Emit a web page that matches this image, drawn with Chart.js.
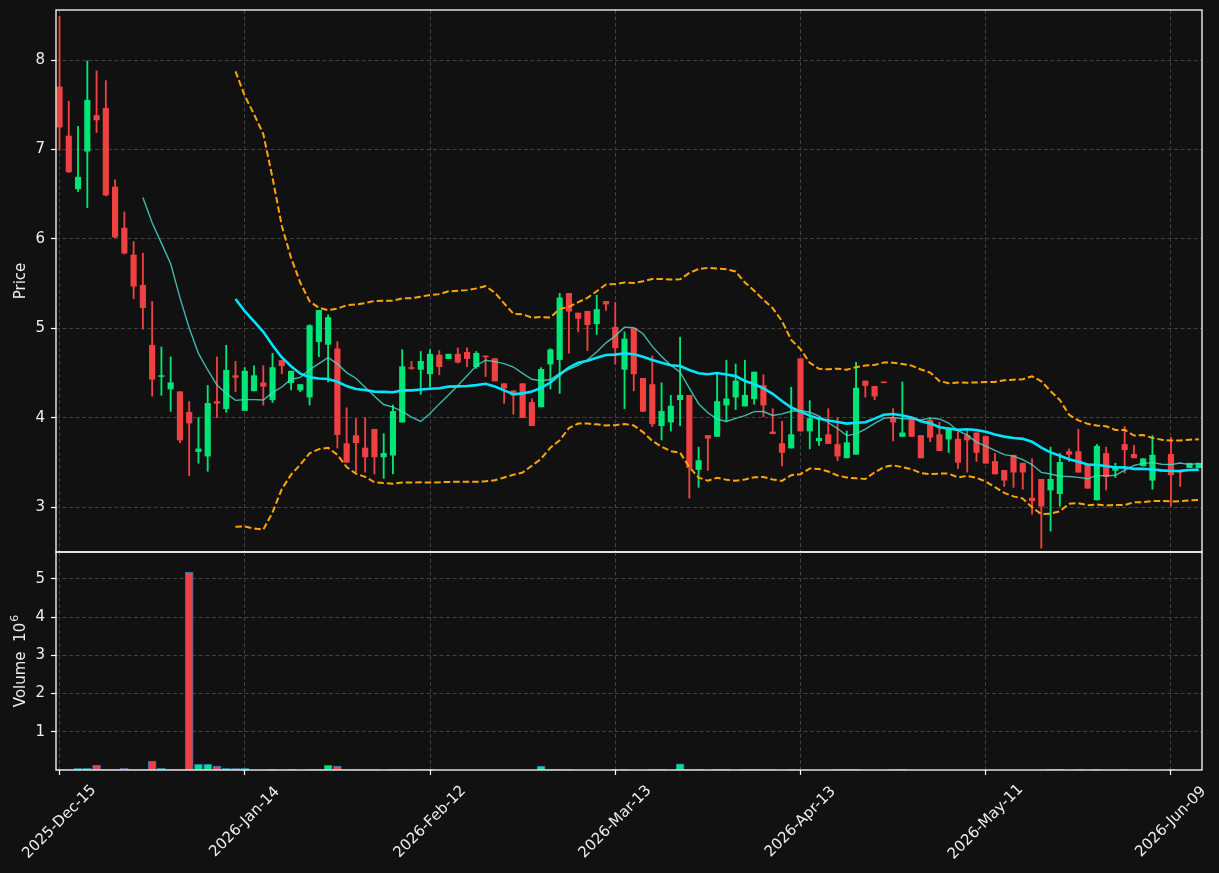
<!DOCTYPE html>
<html lang="en">
<head>
<meta charset="UTF-8">
<title>Price and Volume</title>
<script src="https://cdn.jsdelivr.net/npm/chart.js"></script>
<style>
  html, body { margin: 0; padding: 0; background: #111111; }
  #wrap { position: relative; width: 1219px; height: 873px; background: #111111; }
  canvas { position: absolute; left: 0; }
  #priceChart { top: 0; }
  #volChart { top: 545px; }
</style>
</head>
<body>
<div id="wrap">
  <canvas id="priceChart" width="1219" height="553"></canvas>
  <canvas id="volChart" width="1219" height="328"></canvas>
</div>
<script>
// daily candles, one per trading day from 2025-Dec-15
const opens = [
  7.70, 7.15, 6.56, 6.98, 7.38, 7.46, 6.58, 6.12, 5.82, 5.48,
  4.81, 4.46, 4.32, 4.29, 4.06, 3.62, 3.57, 4.18, 4.10, 4.47,
  4.08, 4.30, 4.39, 4.20, 4.64, 4.39, 4.31, 4.23, 4.85, 4.82,
  4.77, 3.71, 3.80, 3.66, 3.87, 3.56, 3.58, 3.95, 4.56, 4.54,
  4.49, 4.70, 4.66, 4.71, 4.73, 4.57, 4.69, 4.66, 4.38, 4.30,
  4.38, 4.17, 4.12, 4.60, 4.65, 5.39, 5.17, 5.19, 5.05, 5.30,
  5.01, 4.54, 5.00, 4.44, 4.37, 3.91, 3.95, 4.20, 4.25, 3.42,
  3.80, 3.79, 4.14, 4.23, 4.13, 4.21, 4.36, 3.84, 3.71, 3.66,
  4.66, 3.85, 3.74, 3.81, 3.70, 3.55, 3.59, 4.41, 4.35, 4.40,
  4.00, 3.79, 4.00, 3.80, 3.97, 3.81, 3.76, 3.76, 3.80, 3.83,
  3.79, 3.51, 3.41, 3.58, 3.49, 3.10, 3.31, 3.19, 3.15, 3.62,
  3.62, 3.48, 3.08, 3.60, 3.41, 3.70, 3.59, 3.46, 3.30, 3.41,
  3.59, 3.41, 3.44, 3.44
];
const highs = [
  8.49, 7.54, 7.26, 7.99, 7.88, 7.77, 6.66, 6.30, 5.97, 5.84,
  5.30, 4.79, 4.68, 4.29, 4.18, 4.00, 4.36, 4.68, 4.81, 4.63,
  4.56, 4.58, 4.58, 4.72, 4.64, 4.52, 4.37, 5.04, 5.20, 5.15,
  4.85, 4.11, 3.99, 4.00, 3.87, 3.82, 4.14, 4.76, 4.63, 4.74,
  4.76, 4.75, 4.71, 4.78, 4.78, 4.74, 4.69, 4.66, 4.38, 4.30,
  4.38, 4.21, 4.56, 4.77, 5.39, 5.39, 5.17, 5.19, 5.37, 5.30,
  5.29, 4.96, 5.00, 4.44, 4.69, 4.39, 4.25, 4.90, 4.25, 3.67,
  3.80, 4.49, 4.64, 4.60, 4.64, 4.51, 4.48, 4.10, 3.96, 4.34,
  4.66, 4.19, 4.01, 4.10, 4.00, 3.85, 4.62, 4.41, 4.35, 4.40,
  4.10, 4.40, 4.00, 3.80, 4.00, 3.95, 3.88, 3.84, 3.87, 3.83,
  3.79, 3.60, 3.41, 3.58, 3.49, 3.54, 3.31, 3.67, 3.60, 3.65,
  3.87, 3.48, 3.70, 3.67, 3.49, 3.90, 3.69, 3.54, 3.80, 3.41,
  3.78, 3.41, 3.49, 3.49
];
const lows = [
  6.99, 6.74, 6.53, 6.35, 7.19, 6.48, 6.01, 5.83, 5.33, 4.99,
  4.24, 4.25, 4.07, 3.72, 3.35, 3.49, 3.40, 4.00, 4.06, 4.29,
  4.08, 4.30, 4.14, 4.17, 4.49, 4.31, 4.29, 4.14, 4.68, 4.40,
  3.66, 3.50, 3.39, 3.39, 3.37, 3.32, 3.37, 3.95, 4.54, 4.26,
  4.34, 4.48, 4.66, 4.61, 4.57, 4.55, 4.46, 4.41, 4.16, 4.04,
  4.00, 3.91, 4.12, 4.32, 4.27, 4.72, 4.96, 4.75, 4.93, 5.20,
  4.60, 4.10, 4.30, 4.07, 3.90, 3.75, 3.85, 3.91, 3.10, 3.22,
  3.41, 3.79, 3.96, 4.09, 4.13, 4.15, 4.01, 3.82, 3.46, 3.66,
  3.85, 3.65, 3.69, 3.71, 3.52, 3.55, 3.59, 4.23, 4.20, 4.39,
  3.74, 3.79, 3.79, 3.55, 3.73, 3.63, 3.61, 3.43, 3.39, 3.51,
  3.49, 3.37, 3.23, 3.22, 3.20, 2.92, 2.54, 2.73, 3.01, 3.51,
  3.39, 3.21, 3.08, 3.19, 3.33, 3.38, 3.55, 3.46, 3.20, 3.40,
  3.01, 3.23, 3.44, 3.44
];
const closes = [
  7.25, 6.75, 6.69, 7.55, 7.33, 6.49, 6.02, 5.84, 5.47, 5.23,
  4.43, 4.47, 4.39, 3.75, 3.94, 3.65, 4.16, 4.16, 4.53, 4.45,
  4.52, 4.47, 4.35, 4.56, 4.58, 4.52, 4.37, 5.03, 5.20, 5.12,
  3.81, 3.50, 3.72, 3.56, 3.56, 3.60, 4.07, 4.57, 4.55, 4.63,
  4.71, 4.57, 4.71, 4.62, 4.66, 4.72, 4.68, 4.41, 4.33, 4.25,
  4.00, 3.91, 4.54, 4.76, 5.34, 5.19, 5.11, 5.04, 5.21, 5.27,
  4.78, 4.88, 4.49, 4.07, 3.93, 4.07, 4.13, 4.25, 3.44, 3.52,
  3.77, 4.18, 4.21, 4.41, 4.25, 4.51, 4.14, 3.82, 3.61, 3.81,
  3.85, 3.99, 3.77, 3.71, 3.57, 3.72, 4.33, 4.36, 4.24, 4.39,
  3.95, 3.83, 3.79, 3.55, 3.78, 3.63, 3.88, 3.50, 3.75, 3.61,
  3.49, 3.37, 3.30, 3.39, 3.39, 3.07, 3.01, 3.31, 3.50, 3.59,
  3.39, 3.21, 3.68, 3.34, 3.45, 3.64, 3.55, 3.54, 3.58, 3.40,
  3.36, 3.39, 3.49, 3.49
];
// volume in millions
const volumes = [
  0.012, 0.012, 0.045, 0.045, 0.12, 0.012, 0.012, 0.045, 0.012, 0.012,
  0.23, 0.045, 0.012, 0.012, 5.17, 0.15, 0.15, 0.10, 0.045, 0.045,
  0.045, 0, 0, 0.012, 0, 0.012, 0, 0.012, 0.012, 0.12,
  0.10, 0.012, 0.012, 0.012, 0.012, 0, 0.012, 0.012, 0.012, 0.012,
  0.012, 0, 0, 0, 0, 0, 0, 0, 0, 0,
  0, 0, 0.10, 0.012, 0.012, 0.012, 0, 0, 0, 0,
  0.012, 0.012, 0, 0, 0.012, 0.012, 0, 0.16, 0.012, 0.012,
  0, 0.012, 0.012, 0, 0.012, 0.012, 0.012, 0.012, 0, 0.012,
  0, 0, 0, 0, 0.012, 0.012, 0.012, 0, 0, 0,
  0.012, 0.012, 0, 0, 0, 0, 0, 0, 0, 0,
  0, 0, 0, 0, 0, 0, 0, 0.012, 0.012, 0,
  0.012, 0, 0.012, 0, 0, 0.012, 0, 0, 0, 0,
  0.012, 0, 0, 0
];
const tickPositions = [0, 20, 40, 60, 80, 100, 120];
const tickLabels = ['2025-Dec-15', '2026-Jan-14', '2026-Feb-12', '2026-Mar-13', '2026-Apr-13', '2026-May-11', '2026-Jun-09'];

const UP = '#00e676';
const DOWN = '#ef4042';
const GRID = '#414141';
const TXT = '#eeeeee';
const FONT = '15px "DejaVu Sans"';
const SUP_FONT = '11px "DejaVu Sans"';

// rolling mean / std over the closes, like the original plot
const rolling = (arr, n, fn) => arr.map((_, i) => i < n - 1 ? null : fn(arr.slice(i - n + 1, i + 1)));
const mean = w => w.reduce((a, b) => a + b, 0) / w.length;
const std = w => { const m = mean(w); return Math.sqrt(w.reduce((a, b) => a + (b - m) ** 2, 0) / w.length); };

const ma10 = rolling(closes, 10, mean);
const ma20 = rolling(closes, 20, mean);
const sd20 = rolling(closes, 20, std);
const bbUpper = ma20.map((m, i) => m === null ? null : m + 2 * sd20[i]);
const bbLower = ma20.map((m, i) => m === null ? null : m - 2 * sd20[i]);

const colors = closes.map((c, i) => c >= opens[i] ? UP : DOWN);
const xy = arr => arr.map((v, i) => ({x: i, y: v}));

Chart.defaults.font.family = '"DejaVu Sans"';
Chart.defaults.font.size = 15;
Chart.defaults.color = TXT;

const X_MIN = -0.38, X_MAX = 123.35;

// white box around the plot area plus custom text
const framePlugin = {
  id: 'frame',
  afterDraw(chart, args, opts) {
    const {ctx, chartArea: a} = chart;
    ctx.save();
    ctx.strokeStyle = '#ffffff';
    ctx.lineWidth = 1.3;
    ctx.strokeRect(a.left, a.top, a.right - a.left, a.bottom - a.top);
    ctx.fillStyle = TXT;
    // y axis title, with an optional superscript
    ctx.save();
    ctx.translate(opts.titleX, (a.top + a.bottom) / 2);
    ctx.rotate(-Math.PI / 2);
    ctx.textBaseline = 'middle';
    ctx.textAlign = 'left';
    ctx.font = FONT;
    const w = ctx.measureText(opts.title).width;
    let sw = 0;
    if (opts.sup) {
      ctx.font = SUP_FONT;
      sw = ctx.measureText(opts.sup).width + 1;
    }
    const x0 = -(w + sw) / 2;
    ctx.font = FONT;
    ctx.fillText(opts.title, x0, 0);
    if (opts.sup) {
      ctx.font = SUP_FONT;
      ctx.fillText(opts.sup, x0 + w + 1, -6);
    }
    ctx.restore();
    // rotated date labels
    if (opts.dates) {
      ctx.font = FONT;
      const xs = chart.scales.x;
      tickPositions.forEach((p, k) => {
        ctx.save();
        ctx.translate(xs.getPixelForValue(p), a.bottom + 52);
        ctx.rotate(-Math.PI / 4);
        ctx.textAlign = 'center';
        ctx.textBaseline = 'middle';
        ctx.fillText(tickLabels[k], 0, 0);
        ctx.restore();
      });
    }
    ctx.restore();
  }
};

const xAxis = (bottom) => ({
  type: 'linear',
  min: X_MIN,
  max: X_MAX,
  offset: false,
  afterBuildTicks: s => { s.ticks = tickPositions.map(v => ({value: v})); },
  ticks: {display: false},
  grid: {color: GRID, lineWidth: 1, offset: false, drawTicks: bottom, tickLength: 5, tickColor: '#ffffff', tickWidth: 1.2},
  border: {display: false, dash: [4, 2.5]},
  afterFit: s => { s.height = bottom ? 103 : 1; }
});

const yAxis = (min, max, ticks) => ({
  type: 'linear',
  min: min,
  max: max,
  afterBuildTicks: s => { s.ticks = ticks.map(v => ({value: v})); },
  ticks: {color: TXT, padding: 6, font: {size: 15}},
  grid: {color: GRID, lineWidth: 1, tickLength: 5, tickColor: '#ffffff', tickWidth: 1.2},
  border: {display: false, dash: [4, 2.5]},
  afterFit: s => { s.width = 56; s.paddingTop = 0; s.paddingBottom = 0; }
});

new Chart(document.getElementById('priceChart'), {
  type: 'bar',
  data: {
    datasets: [
      {type: 'line', data: xy(ma10), borderColor: 'rgba(70,215,200,0.85)', borderWidth: 1.4, pointRadius: 0, order: 0},
      {type: 'line', data: xy(ma20), borderColor: '#00e5ff', borderWidth: 2.6, pointRadius: 0, order: 0},
      {type: 'line', data: xy(bbUpper), borderColor: '#ffa500', borderWidth: 2, borderDash: [6.5, 3], pointRadius: 0, order: 0},
      {type: 'line', data: xy(bbLower), borderColor: '#ffa500', borderWidth: 2, borderDash: [6.5, 3], pointRadius: 0, order: 0},
      {data: opens.map((o, i) => ({x: i, y: [o, closes[i]]})), backgroundColor: colors, barThickness: 5.5, grouped: false, order: 1},
      {data: lows.map((l, i) => ({x: i, y: [l, highs[i]]})), backgroundColor: colors, barThickness: 1.2, grouped: false, order: 2}
    ]
  },
  options: {
    responsive: false,
    animation: false,
    layout: {padding: {left: 0, right: 17, top: 10, bottom: 0}},
    plugins: {legend: {display: false}, tooltip: {enabled: false}, frame: {title: 'Price', titleX: 21, dates: false}},
    scales: {x: xAxis(false), y: yAxis(2.497, 8.56, [3, 4, 5, 6, 7, 8])}
  },
  plugins: [framePlugin]
});

new Chart(document.getElementById('volChart'), {
  type: 'bar',
  data: {
    datasets: [{
      data: volumes.map((v, i) => ({x: i, y: v > 0 ? v : null})),
      backgroundColor: colors,
      borderColor: '#1f77b4',
      borderWidth: 1,
      borderSkipped: false,
      barThickness: 8,
      grouped: false
    }]
  },
  options: {
    responsive: false,
    animation: false,
    layout: {padding: {left: 0, right: 17, top: 7, bottom: 0}},
    plugins: {legend: {display: false}, tooltip: {enabled: false}, frame: {title: 'Volume  10', sup: '6', titleX: 21, dates: true}},
    scales: {x: xAxis(true), y: yAxis(0, 5.7, [1, 2, 3, 4, 5])}
  },
  plugins: [framePlugin]
});
</script>
</body>
</html>
